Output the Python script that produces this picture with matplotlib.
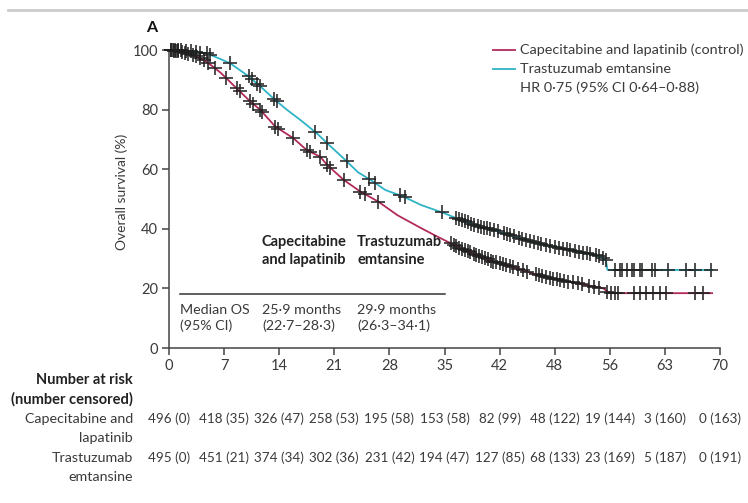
import numpy as np
import matplotlib
matplotlib.use("Agg")
import matplotlib.pyplot as plt
from matplotlib.lines import Line2D
import matplotlib.transforms as mtransforms

plt.rcParams['font.family'] = ['Lato', 'DejaVu Sans']

# Kaplan-Meier estimates, overall survival (%) by month
cap_months = [0, 1.5, 3, 4.5, 5.6, 6.5, 7.3, 8.6, 10.3, 11.6, 13.5, 15.8, 17.5, 19.2, 20.1,
              22.2, 24.3, 26.6, 29, 31.9, 34, 36.2, 37, 39.6, 41.2, 43.5, 45.5, 47.5, 49.8,
              52, 54, 55.2, 55.7, 56.2, 69]
cap_surv = [100, 99.5, 98.3, 96.5, 94.4, 92.5, 90.5, 87.1, 82.8, 79.9, 74.3, 70.4, 66.4, 64.2, 61.4,
            56.4, 52.5, 49.1, 44.6, 40.4, 37.5, 34.6, 33.5, 30.6, 29, 27.3, 25.6, 24, 22.8,
            21.6, 20.6, 20, 18.9, 18.4, 18.4]

tdm_months = [0, 2, 4.8, 6.5, 7.8, 10.1, 11.6, 13.5, 15, 16.7, 18.8, 20.1, 22.4, 24, 25.6,
              27.5, 29.8, 32, 34.9, 37, 39.6, 42.5, 45, 47.6, 51, 53, 54.9, 55.5, 55.7, 69]
tdm_surv = [100, 99.8, 98.9, 97, 95.5, 91.2, 87.8, 83.2, 79.9, 76.5, 72, 68.7, 63.1, 59, 56.4,
            53, 50.8, 48, 45.3, 43, 40.7, 38.6, 36.5, 34.6, 32.9, 31.8, 30.6, 29.5, 26.2, 26.2]

# censoring times (months)
cap_censored = [0.3, 0.6, 0.9, 1.2, 1.6, 2.0, 2.4, 3.0, 3.4, 3.9, 4.4, 5.0, 5.8, 7.3, 8.6, 9.0,
                10.3, 10.7, 11.6, 11.8, 13.5, 13.9, 15.8, 17.5, 17.9, 19.2, 20.1, 20.5, 22.2,
                24.3, 24.9, 26.6,
                35.8, 36.2, 36.5, 36.9, 37.2, 37.6, 38.0, 38.3, 38.7, 39.0, 39.4, 39.8, 40.1,
                40.5, 40.9, 41.2, 41.6, 42.0, 42.4, 42.8, 43.3, 43.7, 44.4, 45.0, 45.5, 46.6,
                47.0, 47.4, 47.9, 48.4, 48.8, 49.3, 49.7, 50.2, 50.7, 51.3, 51.9, 52.5, 53.3,
                54.0, 54.6, 55.7, 56.1, 56.6, 57.0, 59.1, 59.8, 60.6, 61.5, 62.4, 63.2, 66.8, 67.8]
tdm_censored = [0.2, 0.5, 0.8, 1.1, 1.5, 2.2, 2.8, 3.4, 4.0, 4.8, 5.2, 7.8, 10.1, 10.5, 11.2,
                11.6, 13.3, 13.7, 18.6, 20.1, 22.6, 25.4, 26.2, 29.4, 30.0, 34.7,
                36.4, 36.8, 37.2, 37.6, 38.0, 38.4, 38.8, 39.2, 39.6, 40.0, 40.4, 40.8, 41.3,
                41.8, 42.5, 42.9, 43.3, 43.8, 44.5, 44.9, 45.3, 45.8, 46.4, 46.9, 47.3, 47.9,
                48.4, 49.0, 49.5, 50.1, 50.6, 51.0, 51.6, 52.1, 52.6, 53.1, 53.5, 54.2, 54.6,
                55.1, 55.5, 56.6, 57.3, 57.6, 58.2, 58.8, 59.1, 59.8, 60.1, 61.4, 61.7, 63.4,
                65.7, 66.8, 68.9]

x_ticks = [0, 7, 14, 21, 28, 35, 42, 49, 56, 63, 70]
x_tick_labels = ['0', '7', '14', '21', '28', '35', '42', '48', '56', '63', '70']

cap_at_risk = ['496 (0)', '418 (35)', '326 (47)', '258 (53)', '195 (58)', '153 (58)',
               '82 (99)', '48 (122)', '19 (144)', '3 (160)', '0 (163)']
tdm_at_risk = ['495 (0)', '451 (21)', '374 (34)', '302 (36)', '231 (42)', '194 (47)',
               '127 (85)', '68 (133)', '23 (169)', '5 (187)', '0 (191)']

cap_color = '#b22a5c'
tdm_color = '#2fb3c6'
text_color = '#3a3a3a'

W, H = 748, 503
fig = plt.figure(figsize=(W / 100, H / 100), dpi=100)


def fx(px):
    return px / W


def fy(py):
    return 1 - py / H


ax = fig.add_axes([fx(169), fy(348), fx(720) - fx(169), fy(50) - fy(348)])

ax.plot(cap_months, cap_surv, color=cap_color, lw=1.3, zorder=3)
ax.plot(tdm_months, tdm_surv, color=tdm_color, lw=1.3, zorder=3)

# censor marks sit on the curves
ax.plot(cap_censored, np.interp(cap_censored, cap_months, cap_surv), ls='none', marker='+',
        ms=10.5, mew=1.3, color='#1e1e1e', alpha=0.85, zorder=4, clip_on=False)
ax.plot(tdm_censored, np.interp(tdm_censored, tdm_months, tdm_surv), ls='none', marker='+',
        ms=10.5, mew=1.3, color='#1e1e1e', alpha=0.85, zorder=4, clip_on=False)

ax.set_xlim(0, 70)
ax.set_ylim(0, 100)
ax.set_xticks(x_ticks)
ax.set_xticklabels(x_tick_labels)
ax.set_yticks([0, 20, 40, 60, 80, 100])
for s in ['top', 'right']:
    ax.spines[s].set_visible(False)
for s in ['left', 'bottom']:
    ax.spines[s].set_color('#444444')
    ax.spines[s].set_linewidth(1.1)
ax.tick_params(direction='out', length=5, width=1.1, color='#444444',
               labelsize=10.5, labelcolor=text_color, pad=3)
fig.text(fx(122), fy(192), 'Overall survival (%)', fontsize=10, color=text_color,
         rotation=90, ha='center', va='center')

# legend
for py, c in [(50, cap_color), (69, tdm_color)]:
    fig.add_artist(Line2D([fx(493), fx(515)], [fy(py), fy(py)], color=c, lw=1.3))
fig.text(fx(520), fy(50), 'Capecitabine and lapatinib (control)', fontsize=10.4,
         color=text_color, va='center')
fig.text(fx(520), fy(69), 'Trastuzumab emtansine', fontsize=10.4, color=text_color, va='center')
fig.text(fx(520), fy(88), 'HR 0·75 (95% CI 0·64–0·88)', fontsize=10.4, color=text_color,
         va='center')

# median OS table inside the plot
fig.text(fx(262), fy(251), 'Capecitabine\nand lapatinib', fontsize=10.5, fontweight='bold',
         color='#222222', va='center', linespacing=1.3)
fig.text(fx(357), fy(251), 'Trastuzumab\nemtansine', fontsize=10.5, fontweight='bold',
         color='#222222', va='center', linespacing=1.3)
fig.add_artist(Line2D([fx(180), fx(445)], [fy(294), fy(294)], color='#333333', lw=1.1))
fig.text(fx(180), fy(318), 'Median OS\n(95% CI)', fontsize=10.3, color=text_color, va='center',
         linespacing=1.35)
fig.text(fx(262), fy(318), '25·9 months\n(22·7–28·3)', fontsize=10.3, color=text_color,
         va='center', linespacing=1.35)
fig.text(fx(357), fy(318), '29·9 months\n(26·3–34·1)', fontsize=10.3, color=text_color,
         va='center', linespacing=1.35)

# panel letter and top rule
fig.add_artist(Line2D([fx(8), 1], [fy(10), fy(10)], color='#cccccc', lw=2))
fig.text(fx(152), fy(28), 'A', fontsize=11.5, fontweight='bold', color='#111111',
         ha='center', va='center')

# number at risk
fig.text(fx(133), fy(380), 'Number at risk', fontsize=10.5, fontweight='bold', color='#222222',
         ha='right', va='center')
fig.text(fx(133), fy(399), '(number censored)', fontsize=10.5, fontweight='bold', color='#222222',
         ha='right', va='center')
fig.text(fx(133), fy(419), 'Capecitabine and', fontsize=10.3, color=text_color, ha='right',
         va='center')
fig.text(fx(133), fy(438), 'lapatinib', fontsize=10.3, color=text_color, ha='right', va='center')
fig.text(fx(133), fy(458), 'Trastuzumab', fontsize=10.3, color=text_color, ha='right', va='center')
fig.text(fx(133), fy(477), 'emtansine', fontsize=10.3, color=text_color, ha='right', va='center')

trans = mtransforms.blended_transform_factory(ax.transData, fig.transFigure)
for t, a, b in zip(x_ticks, cap_at_risk, tdm_at_risk):
    ax.text(t, fy(419), a, transform=trans, fontsize=9.7, color=text_color,
            ha='center', va='center', clip_on=False)
    ax.text(t, fy(458), b, transform=trans, fontsize=9.7, color=text_color,
            ha='center', va='center', clip_on=False)

fig.savefig('out.png', dpi=100, facecolor='white')
